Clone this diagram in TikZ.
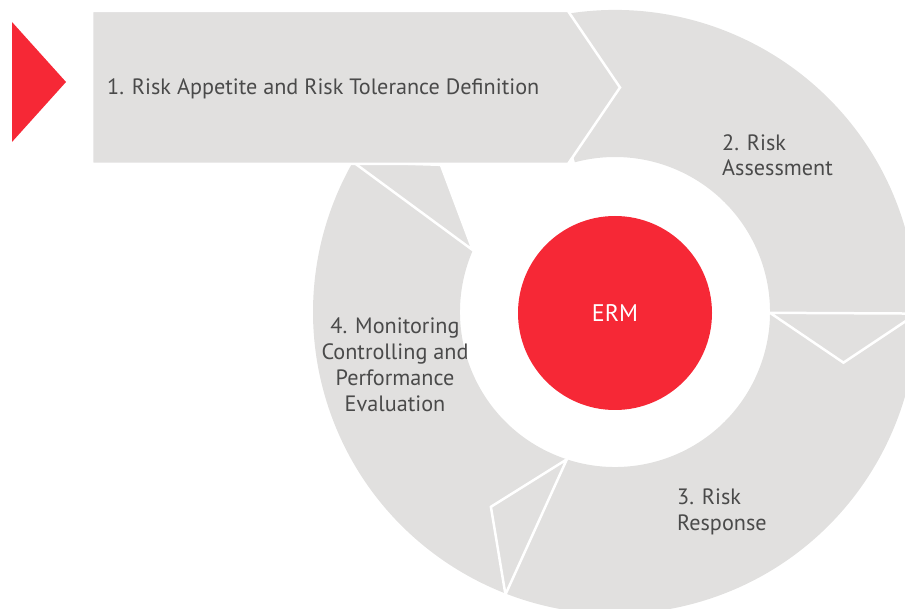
\documentclass[tikz,border=0pt]{standalone}
\usepackage{fontspec}
\setmainfont{PT Sans}
\usetikzlibrary{calc}
\definecolor{ringgrey}{HTML}{E1E0DF}
\definecolor{ermred}{HTML}{F62836}
\definecolor{labelgrey}{HTML}{4A4A4A}
\begin{document}
\begin{tikzpicture}[x=1pt,y=-1pt,
    wedge/.style={fill=ringgrey, draw=white, line width=2.5pt},
    steptext/.style={text=labelgrey, inner sep=0pt,
      font=\fontsize{22.2}{25.7}\selectfont},
  ]
  \useasboundingbox (0,0) rectangle (905,609);
  \coordinate (c) at (615,312);

  % Ring carrying stages 2 to 4
  \fill[ringgrey] ($(c)+(-105:302)$) arc[start angle=-105, end angle=209.8, radius=302]
    -- ($(c)+(203.5:155)$) arc[start angle=203.5, end angle=-105, radius=155] -- cycle;

  % Arrow tips at the end of each stage
  \draw[wedge] ($(c)+(203.5:155)$) -- ($(c)+(209.8:302)$) -- ($(c)+(220.2:228)$) -- cycle;
  \draw[wedge] ($(c)+(108.1:155)$) -- ($(c)+(111.2:303)$) -- ($(c)+(122.5:231)$) -- cycle;
  \draw[wedge] ($(c)+(0.3:155)$) -- ($(c)+(0.3:302)$) -- ($(c)+(12.5:234)$) -- cycle;

  % Stage 1 banner
  \draw[wedge] (92,11) -- (568,11) -- (620,87.5) -- (568,164) -- (92,164) -- cycle;
  \fill[ermred] (12,22) -- (66,82) -- (12,142) -- cycle;

  % Centre
  \node[circle, fill=ermred, minimum size=194pt, inner sep=0pt, text=white,
    font=\fontsize{24}{26}\selectfont] (erm) at (615,313) {ERM};

  % Stage labels
  \node[steptext, anchor=base west] (stage1) at (107,95) {1. Risk Appetite and Risk Tolerance Definition};
  \node[steptext, anchor=base west, align=left] (stage2) at (722,176) {2. Risk\\Assessment};
  \node[steptext, anchor=base west, align=left] (stage3) at (677,530) {3. Risk\\Response};
  \node[steptext, anchor=base, align=center] (stage4) at (395,411) {4. Monitoring\\Controlling and\\Performance\\Evaluation};
\end{tikzpicture}
\end{document}
